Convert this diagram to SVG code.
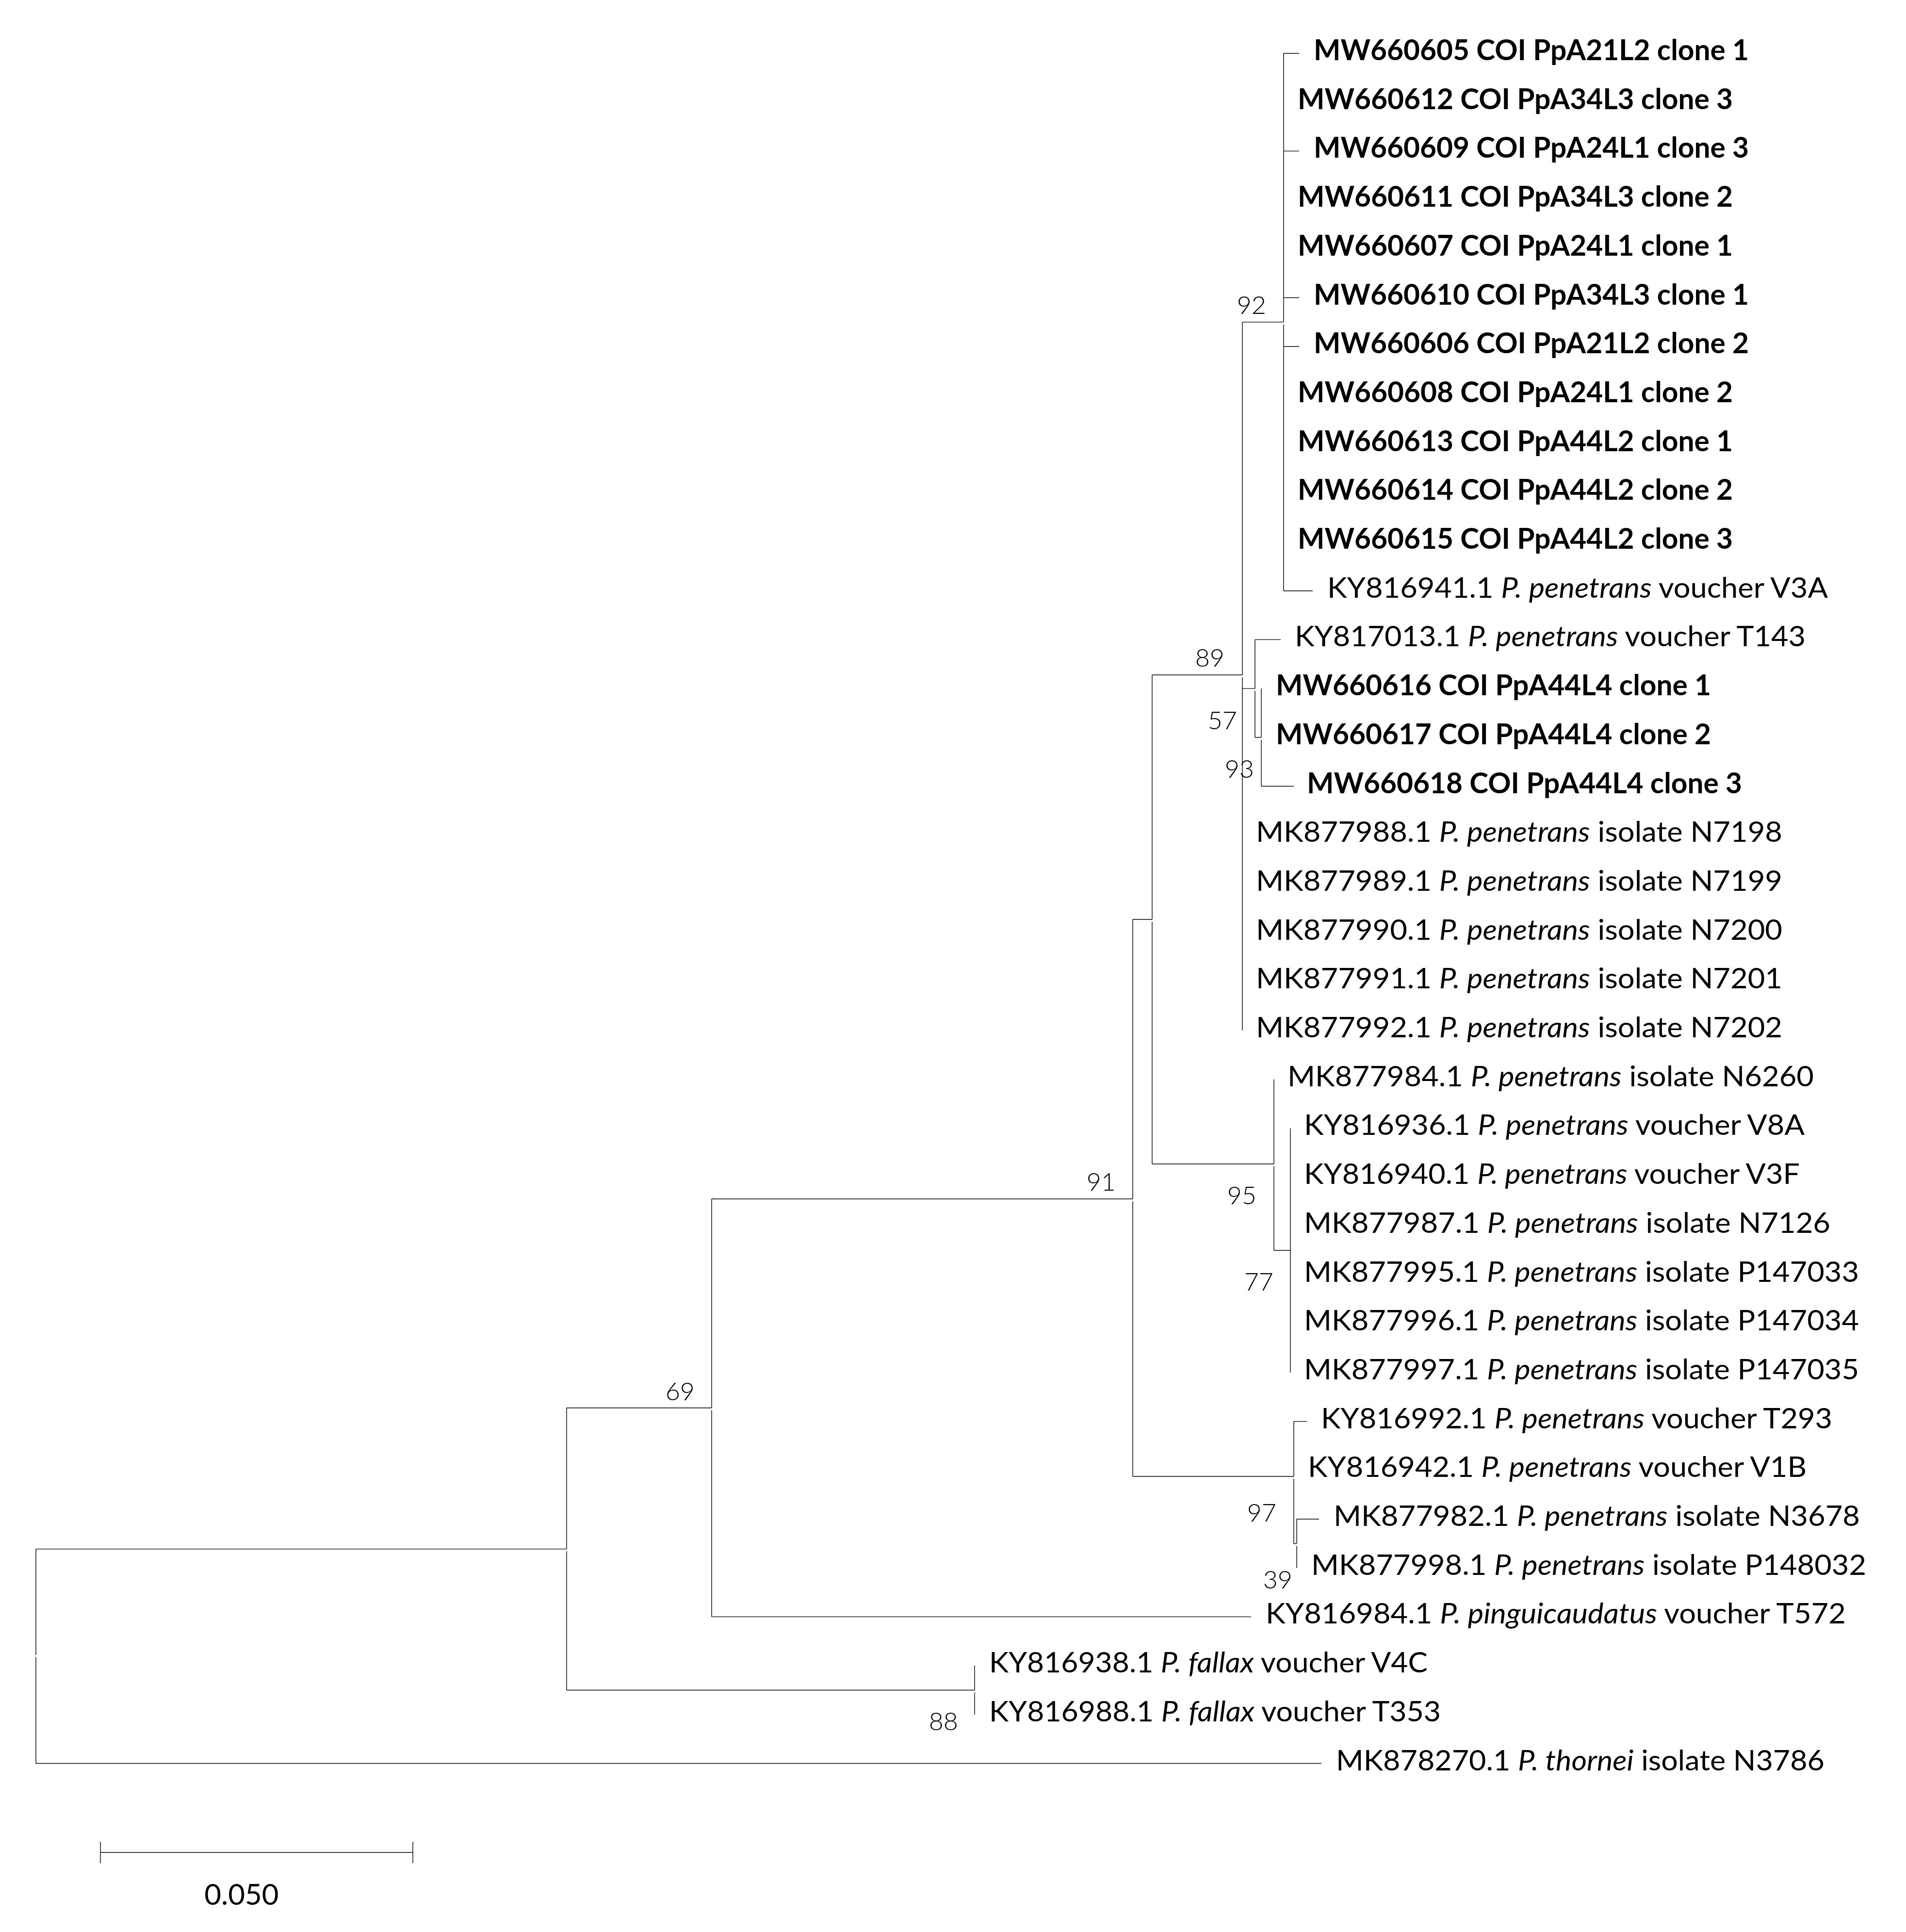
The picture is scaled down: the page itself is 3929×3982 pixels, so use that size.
<svg xmlns="http://www.w3.org/2000/svg" width="3929" height="3982" viewBox="0 0 3929 3982">
<style>
.br{stroke:#000;stroke-width:1.4;fill:none}
.lf{font-family:Lato,'Open Sans','Liberation Sans',sans-serif;font-size:58.6px;fill:#000}
.b{font-weight:bold}
.i{font-style:italic}
.bs{font-family:Lato,'Open Sans','Liberation Sans',sans-serif;font-size:52px;font-weight:300;fill:#000;text-anchor:end}
.sc{font-family:Lato,'Open Sans','Liberation Sans',sans-serif;font-size:60px;fill:#000;text-anchor:middle}
</style>
<rect width="3929" height="3982" fill="#fff"/>
<g id="connectors">
<path class="br" d="M74 3192.6V3411M74 3415.5V3634.5M74 3634.5H2724M74 3192.6H1168"/>
<path class="br" d="M1168 2901.7V3192.6M1168 3197.6V3483.5M1168 2901.7H1467M1168 3483.5H2009"/>
<path class="br" d="M2009 3433.1V3483.5M2009 3488.5V3533.8"/>
<path class="br" d="M1467 2471V2901.7M1467 2906.7V3332.4M1467 2471H2335M1467 3332.4H2579"/>
<path class="br" d="M2335 1895V2471M2335 2476V3043M2335 1895H2375M2335 3043H2667"/>
<path class="br" d="M2375 1391V1895M2375 1900V2399M2375 1391H2561M2375 2399H2626"/>
<path class="br" d="M2561 663.9V1391M2561 1396V2124M2561 663.9H2646M2561 1419.1H2587"/>
<path class="br" d="M2646 110V663.9M2646 668.9V1217.7M2646 110H2678M2646 311.4H2678M2646 613.5H2678M2646 714.2H2678M2646 1217.7H2706"/>
<path class="br" d="M2587 1318.4V1419.1M2587 1424V1519.8M2587 1318.4H2640M2587 1519.8H2600"/>
<path class="br" d="M2600 1419.1V1519.8M2600 1524.8V1620.5M2600 1620.5H2667"/>
<path class="br" d="M2626 2224.7V2399M2626 2404V2577.2M2626 2577.2H2660"/>
<path class="br" d="M2660 2325.4V2828.9"/>
<path class="br" d="M2667 2929.6V3043M2667 3048V3181.5M2667 2929.6H2694M2667 3181.5H2673"/>
<path class="br" d="M2673 3131V3181.5M2673 3186.5V3231.7M2673 3131H2719"/>
</g>
<g id="leaves">
<g id="leaf-MW660605"><text class="lf b" x="2708" y="124" textLength="897" lengthAdjust="spacingAndGlyphs">MW660605 COI PpA21L2 clone 1</text></g>
<g id="leaf-MW660612"><text class="lf b" x="2675" y="224.7" textLength="897" lengthAdjust="spacingAndGlyphs">MW660612 COI PpA34L3 clone 3</text></g>
<g id="leaf-MW660609"><text class="lf b" x="2708" y="325.4" textLength="897" lengthAdjust="spacingAndGlyphs">MW660609 COI PpA24L1 clone 3</text></g>
<g id="leaf-MW660611"><text class="lf b" x="2675" y="426.1" textLength="897" lengthAdjust="spacingAndGlyphs">MW660611 COI PpA34L3 clone 2</text></g>
<g id="leaf-MW660607"><text class="lf b" x="2675" y="526.8" textLength="897" lengthAdjust="spacingAndGlyphs">MW660607 COI PpA24L1 clone 1</text></g>
<g id="leaf-MW660610"><text class="lf b" x="2708" y="627.5" textLength="897" lengthAdjust="spacingAndGlyphs">MW660610 COI PpA34L3 clone 1</text></g>
<g id="leaf-MW660606"><text class="lf b" x="2708" y="728.2" textLength="897" lengthAdjust="spacingAndGlyphs">MW660606 COI PpA21L2 clone 2</text></g>
<g id="leaf-MW660608"><text class="lf b" x="2675" y="828.9" textLength="897" lengthAdjust="spacingAndGlyphs">MW660608 COI PpA24L1 clone 2</text></g>
<g id="leaf-MW660613"><text class="lf b" x="2675" y="929.6" textLength="897" lengthAdjust="spacingAndGlyphs">MW660613 COI PpA44L2 clone 1</text></g>
<g id="leaf-MW660614"><text class="lf b" x="2675" y="1030.3" textLength="897" lengthAdjust="spacingAndGlyphs">MW660614 COI PpA44L2 clone 2</text></g>
<g id="leaf-MW660615"><text class="lf b" x="2675" y="1131" textLength="897" lengthAdjust="spacingAndGlyphs">MW660615 COI PpA44L2 clone 3</text></g>
<g id="leaf-KY816941"><text class="lf" x="2736" y="1231.7" textLength="1032" lengthAdjust="spacingAndGlyphs">KY816941.1 <tspan class="i">P. penetrans</tspan> voucher V3A</text></g>
<g id="leaf-KY817013"><text class="lf" x="2669" y="1332.4" textLength="1053" lengthAdjust="spacingAndGlyphs">KY817013.1 <tspan class="i">P. penetrans</tspan> voucher T143</text></g>
<g id="leaf-MW660616"><text class="lf b" x="2630" y="1433.1" textLength="897" lengthAdjust="spacingAndGlyphs">MW660616 COI PpA44L4 clone 1</text></g>
<g id="leaf-MW660617"><text class="lf b" x="2630" y="1533.8" textLength="897" lengthAdjust="spacingAndGlyphs">MW660617 COI PpA44L4 clone 2</text></g>
<g id="leaf-MW660618"><text class="lf b" x="2694" y="1634.5" textLength="897" lengthAdjust="spacingAndGlyphs">MW660618 COI PpA44L4 clone 3</text></g>
<g id="leaf-MK877988"><text class="lf" x="2589" y="1735.2" textLength="1085" lengthAdjust="spacingAndGlyphs">MK877988.1 <tspan class="i">P. penetrans</tspan> isolate N7198</text></g>
<g id="leaf-MK877989"><text class="lf" x="2589" y="1835.9" textLength="1085" lengthAdjust="spacingAndGlyphs">MK877989.1 <tspan class="i">P. penetrans</tspan> isolate N7199</text></g>
<g id="leaf-MK877990"><text class="lf" x="2589" y="1936.6" textLength="1085" lengthAdjust="spacingAndGlyphs">MK877990.1 <tspan class="i">P. penetrans</tspan> isolate N7200</text></g>
<g id="leaf-MK877991"><text class="lf" x="2589" y="2037.3" textLength="1085" lengthAdjust="spacingAndGlyphs">MK877991.1 <tspan class="i">P. penetrans</tspan> isolate N7201</text></g>
<g id="leaf-MK877992"><text class="lf" x="2589" y="2138" textLength="1085" lengthAdjust="spacingAndGlyphs">MK877992.1 <tspan class="i">P. penetrans</tspan> isolate N7202</text></g>
<g id="leaf-MK877984"><text class="lf" x="2654" y="2238.7" textLength="1085" lengthAdjust="spacingAndGlyphs">MK877984.1 <tspan class="i">P. penetrans</tspan> isolate N6260</text></g>
<g id="leaf-KY816936"><text class="lf" x="2688" y="2339.4" textLength="1032" lengthAdjust="spacingAndGlyphs">KY816936.1 <tspan class="i">P. penetrans</tspan> voucher V8A</text></g>
<g id="leaf-KY816940"><text class="lf" x="2688" y="2440.1" textLength="1022" lengthAdjust="spacingAndGlyphs">KY816940.1 <tspan class="i">P. penetrans</tspan> voucher V3F</text></g>
<g id="leaf-MK877987"><text class="lf" x="2688" y="2540.8" textLength="1085" lengthAdjust="spacingAndGlyphs">MK877987.1 <tspan class="i">P. penetrans</tspan> isolate N7126</text></g>
<g id="leaf-MK877995"><text class="lf" x="2688" y="2641.5" textLength="1144" lengthAdjust="spacingAndGlyphs">MK877995.1 <tspan class="i">P. penetrans</tspan> isolate P147033</text></g>
<g id="leaf-MK877996"><text class="lf" x="2688" y="2742.2" textLength="1144" lengthAdjust="spacingAndGlyphs">MK877996.1 <tspan class="i">P. penetrans</tspan> isolate P147034</text></g>
<g id="leaf-MK877997"><text class="lf" x="2688" y="2842.9" textLength="1144" lengthAdjust="spacingAndGlyphs">MK877997.1 <tspan class="i">P. penetrans</tspan> isolate P147035</text></g>
<g id="leaf-KY816992"><text class="lf" x="2723" y="2943.6" textLength="1054" lengthAdjust="spacingAndGlyphs">KY816992.1 <tspan class="i">P. penetrans</tspan> voucher T293</text></g>
<g id="leaf-KY816942"><text class="lf" x="2696" y="3044.3" textLength="1028" lengthAdjust="spacingAndGlyphs">KY816942.1 <tspan class="i">P. penetrans</tspan> voucher V1B</text></g>
<g id="leaf-MK877982"><text class="lf" x="2749" y="3145" textLength="1085" lengthAdjust="spacingAndGlyphs">MK877982.1 <tspan class="i">P. penetrans</tspan> isolate N3678</text></g>
<g id="leaf-MK877998"><text class="lf" x="2703" y="3245.7" textLength="1144" lengthAdjust="spacingAndGlyphs">MK877998.1 <tspan class="i">P. penetrans</tspan> isolate P148032</text></g>
<g id="leaf-KY816984"><text class="lf" x="2609" y="3346.4" textLength="1196" lengthAdjust="spacingAndGlyphs">KY816984.1 <tspan class="i">P. pinguicaudatus</tspan> voucher T572</text></g>
<g id="leaf-KY816938"><text class="lf" x="2039" y="3447.1" textLength="904" lengthAdjust="spacingAndGlyphs">KY816938.1 <tspan class="i">P. fallax</tspan> voucher V4C</text></g>
<g id="leaf-KY816988"><text class="lf" x="2039" y="3547.8" textLength="931" lengthAdjust="spacingAndGlyphs">KY816988.1 <tspan class="i">P. fallax</tspan> voucher T353</text></g>
<g id="leaf-MK878270"><text class="lf" x="2754" y="3648.5" textLength="1007" lengthAdjust="spacingAndGlyphs">MK878270.1 <tspan class="i">P. thornei</tspan> isolate N3786</text></g>
</g>
<g id="bootstrap">
<g id="node-92"><text class="bs" x="2610" y="647">92</text></g>
<g id="node-89"><text class="bs" x="2524" y="1374">89</text></g>
<g id="node-57"><text class="bs" x="2550" y="1503">57</text></g>
<g id="node-93"><text class="bs" x="2585" y="1603">93</text></g>
<g id="node-91"><text class="bs" x="2300" y="2454">91</text></g>
<g id="node-95"><text class="bs" x="2590" y="2482">95</text></g>
<g id="node-77"><text class="bs" x="2625" y="2660">77</text></g>
<g id="node-97"><text class="bs" x="2631" y="3136">97</text></g>
<g id="node-39"><text class="bs" x="2664" y="3274">39</text></g>
<g id="node-69"><text class="bs" x="1432" y="2886">69</text></g>
<g id="node-88"><text class="bs" x="1975" y="3566">88</text></g>
</g>
<g id="scale-bar">
<path class="br" d="M207 3818H851M207 3796V3840M851 3796V3840"/>
<text class="sc" x="498" y="3926">0.050</text>
</g>
</svg>
